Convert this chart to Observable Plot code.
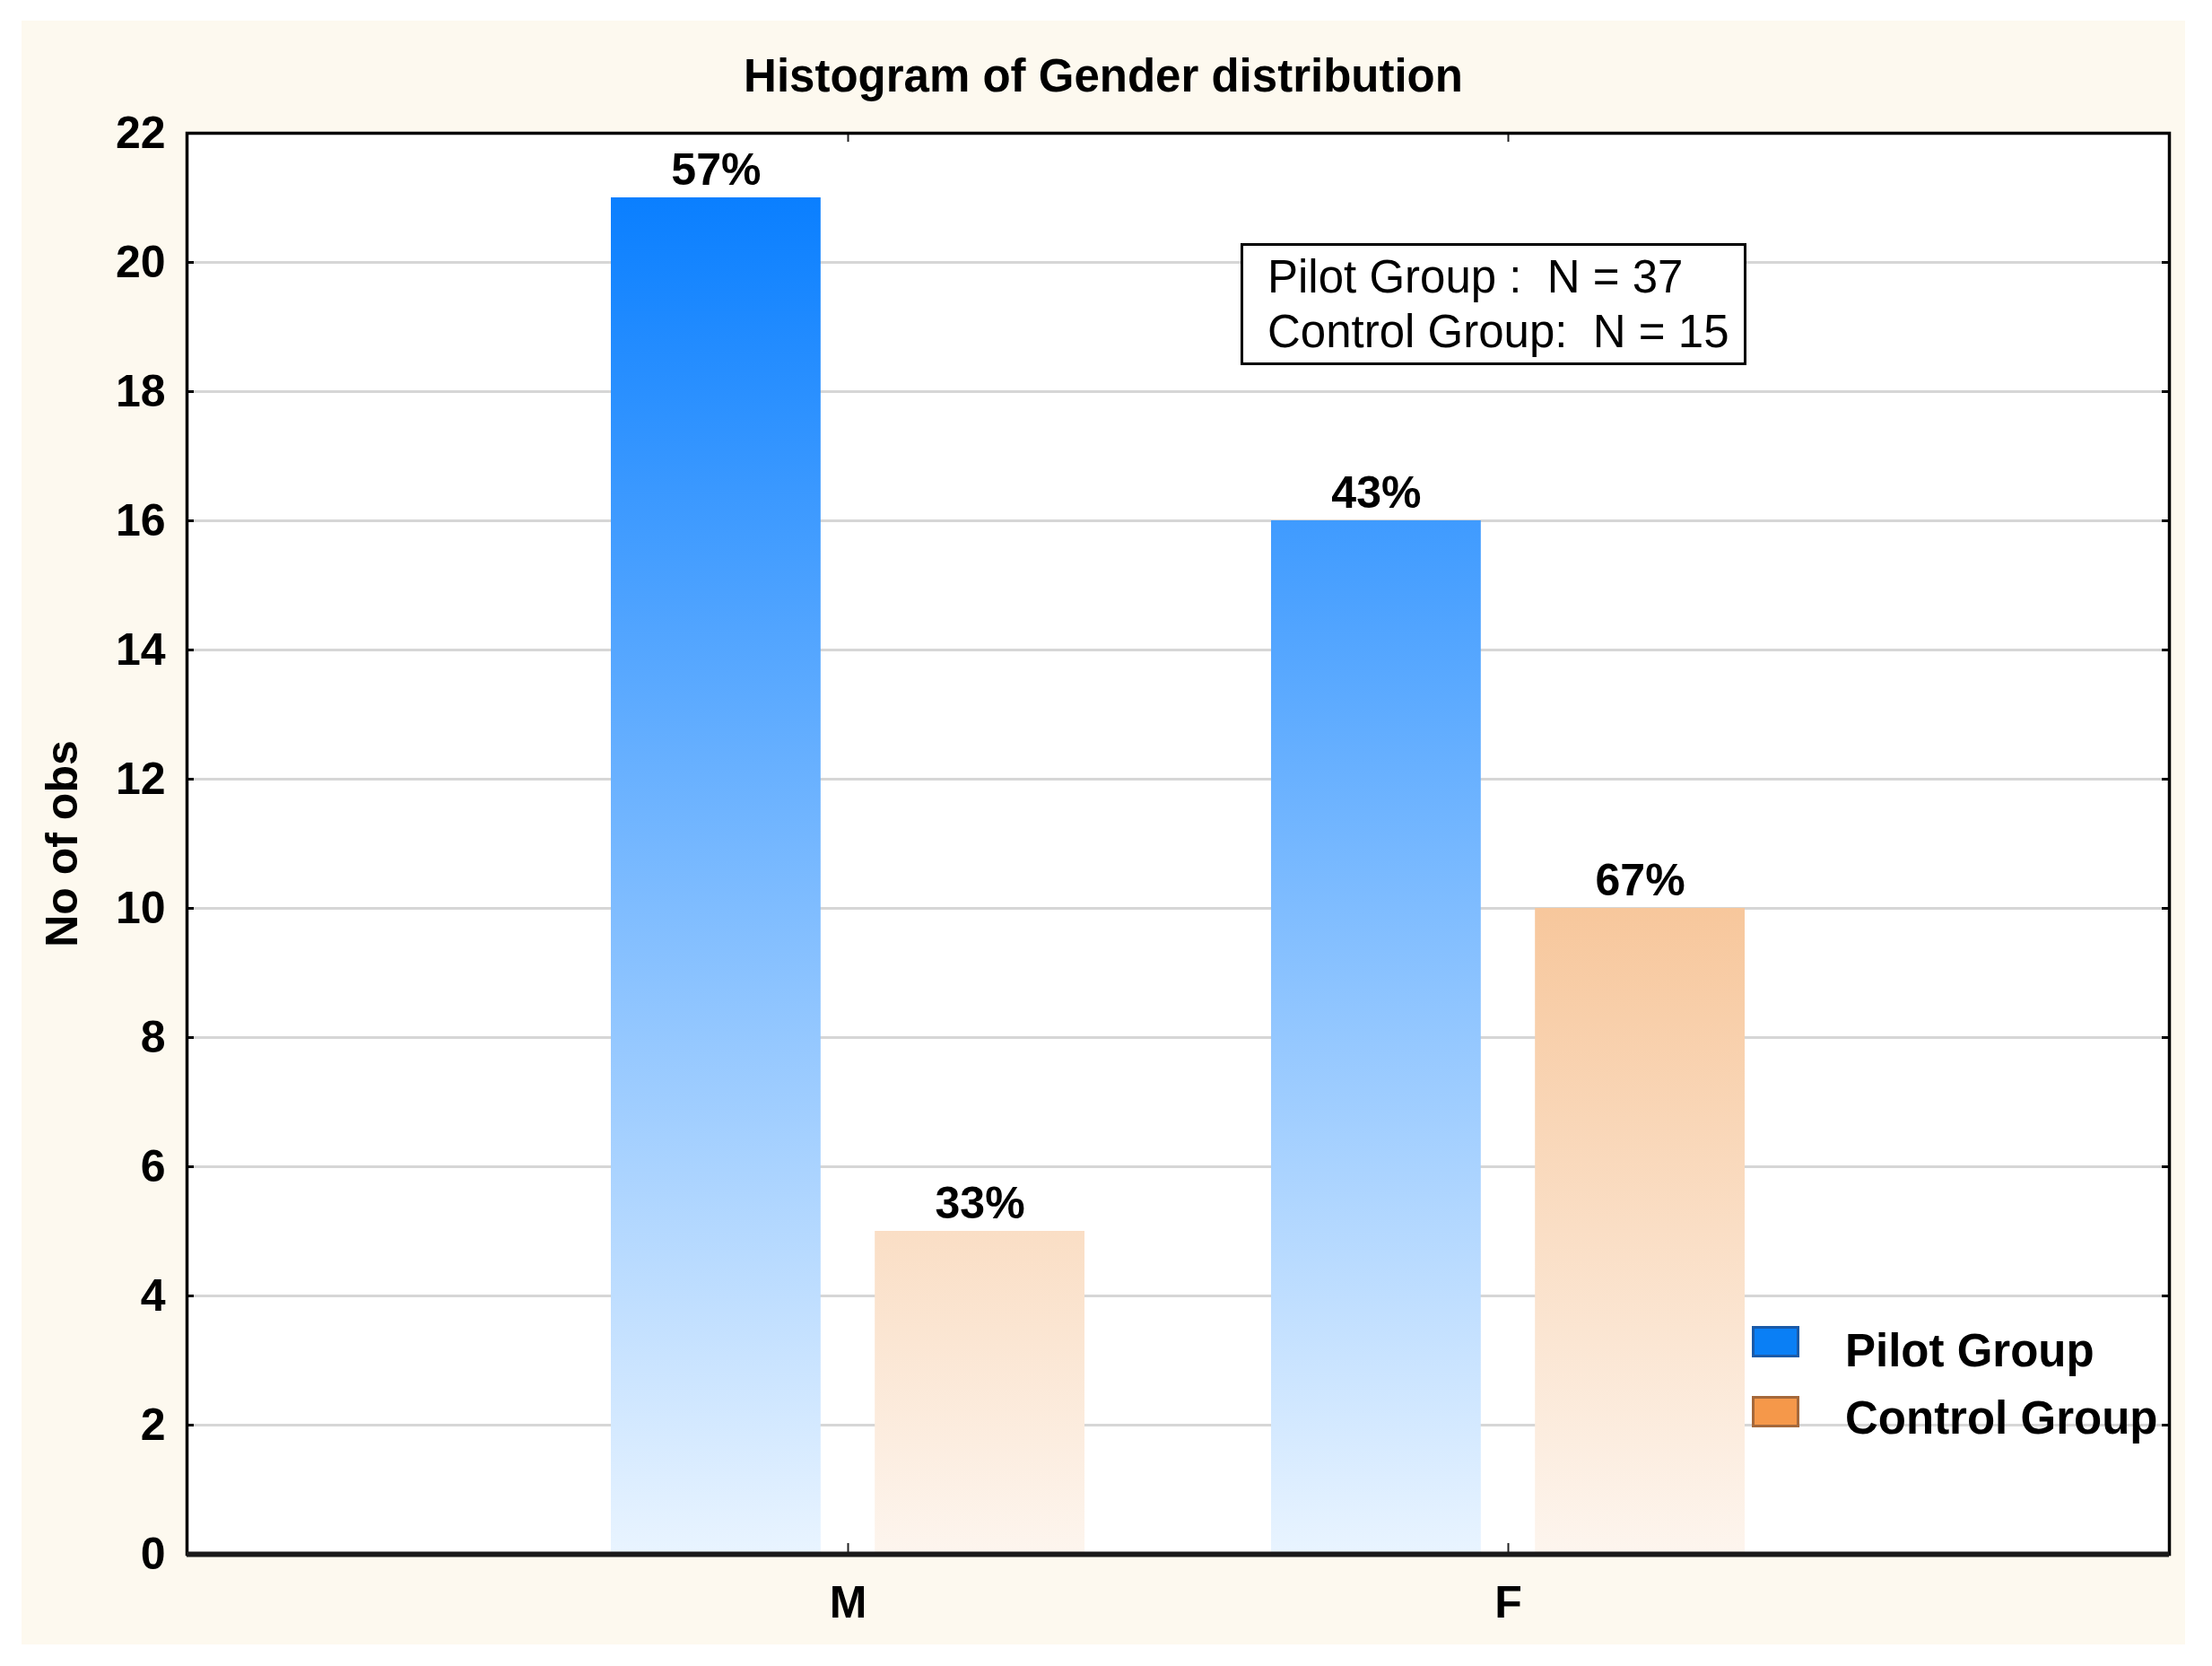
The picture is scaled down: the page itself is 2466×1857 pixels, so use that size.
<!DOCTYPE html>
<html>
<head>
<meta charset="utf-8">
<script src="https://cdn.jsdelivr.net/npm/d3@7"></script>
<script src="https://cdn.jsdelivr.net/npm/@observablehq/plot@0.6"></script>
<style>
  html, body { margin: 0; padding: 0; background: #ffffff; }
  #wrap { position: relative; width: 2466px; height: 1857px; overflow: hidden; font-family: "Liberation Sans", Arial, sans-serif; color: #000; }
  #bg { position: absolute; left: 24px; top: 23px; width: 2412px; height: 1810px; background: #fdf9ef; }
  #title { position: absolute; left: 24px; width: 2412px; top: 59px; text-align: center; font-weight: bold; font-size: 51px; line-height: 51px; }
  #chart { position: absolute; left: 0; top: 0; }
  #note { position: absolute; left: 1383px; top: 271px; width: 564px; height: 136px; box-sizing: border-box; border: 3px solid #000; background: #fff; }
  #note div { position: absolute; left: 27px; top: 4px; font-size: 51px; line-height: 61px; white-space: pre; }
  .sw { position: absolute; left: 1953px; width: 53px; height: 35px; box-sizing: border-box; border: 3px solid; }
  .lg { position: absolute; left: 2057px; font-weight: bold; font-size: 51px; line-height: 51px; white-space: pre; }
</style>
</head>
<body>
<div id="wrap">
  <div id="bg"></div>
  <div id="title"></div>
  <div id="chart"></div>
  <div id="note"><div id="noteText"></div></div>
  <div id="legend"></div>
</div>
<script>
// ---- data ----
const genders = ["M", "F"];
const groups = ["Pilot Group", "Control Group"];
const pilotCounts = [21, 16];
const controlCounts = [5, 10];
const pilotLabels = ["57%", "43%"];
const controlLabels = ["33%", "67%"];
const sampleSizes = [37, 15];
const yTicks = [0, 2, 4, 6, 8, 10, 12, 14, 16, 18, 20, 22];
const titleText = "Histogram of Gender distribution";
const yLabel = "No of obs";

const pilot = genders.map((g, i) => ({gender: g, group: groups[0], count: pilotCounts[i], label: pilotLabels[i]}));
const control = genders.map((g, i) => ({gender: g, group: groups[1], count: controlCounts[i], label: controlLabels[i]}));

// ---- layout ----
const W = 2466, H = 1857;
const mL = 208, mR = 48, mT = 148, mB = 125;
const innerW = W - mL - mR, innerH = H - mT - mB;
const pIn = 0.283, pOut = 0.6415;
const step = innerW / (genders.length - pIn + 2 * pOut);
const bandW = step * (1 - pIn);
const barW = 234;
const inset = bandW - barW;
const offset = bandW / 2 - barW / 2;

const chart = Plot.plot({
  width: W, height: H,
  marginLeft: mL, marginRight: mR, marginTop: mT, marginBottom: mB,
  style: {background: "transparent", fontFamily: "Liberation Sans, Arial, sans-serif", fontSize: "50px", fontWeight: "bold", color: "#000", overflow: "visible"},
  x: {type: "band", domain: genders, paddingInner: pIn, paddingOuter: pOut},
  y: {domain: [0, 22]},
  marks: [
    Plot.frame({fill: "#ffffff", stroke: null}),
    Plot.gridY(yTicks, {stroke: "#d6d6d6", strokeOpacity: 1, strokeWidth: 3}),
    Plot.barY(pilot, {x: "gender", y: "count", fill: "url(#pilotGrad)", insetRight: inset}),
    Plot.barY(control, {x: "gender", y: "count", fill: "url(#controlGrad)", insetLeft: inset}),
    Plot.tickY(yTicks, {y: d => d, stroke: "#000", strokeWidth: 3, insetRight: innerW - 8}),
    Plot.tickY(yTicks, {y: d => d, stroke: "#000", strokeWidth: 3, insetLeft: innerW - 8}),
    Plot.tickX(genders, {x: d => d, stroke: "#222", strokeWidth: 2, insetBottom: innerH - 10}),
    Plot.tickX(genders, {x: d => d, stroke: "#222", strokeWidth: 2, insetTop: innerH - 12}),
    Plot.frame({stroke: "#000", strokeWidth: 3.5}),
    Plot.ruleY([0], {stroke: "#1a1a1a", strokeWidth: 6}),
    Plot.text(pilot, {x: "gender", y: "count", text: "label", dx: -offset, dy: -15, lineAnchor: "bottom", fill: "#000"}),
    Plot.text(control, {x: "gender", y: "count", text: "label", dx: offset, dy: -15, lineAnchor: "bottom", fill: "#000"}),
    Plot.axisY({ticks: yTicks, tickSize: 0, tickPadding: 24, label: yLabel, labelAnchor: "center", labelOffset: 158, labelArrow: "none"}),
    Plot.axisX({tickSize: 0, tickPadding: 35, label: null})
  ]
});

// gradients in user space, from the y scale
const ys = chart.scale("y");
const ns = "http://www.w3.org/2000/svg";
const defs = document.createElementNS(ns, "defs");
function grad(id, top, c0, c1) {
  const g = document.createElementNS(ns, "linearGradient");
  g.setAttribute("id", id);
  g.setAttribute("gradientUnits", "userSpaceOnUse");
  g.setAttribute("x1", 0); g.setAttribute("x2", 0);
  g.setAttribute("y1", ys.apply(0)); g.setAttribute("y2", ys.apply(top));
  [[0, c0], [1, c1]].forEach(([o, c]) => {
    const s = document.createElementNS(ns, "stop");
    s.setAttribute("offset", o); s.setAttribute("stop-color", c);
    g.appendChild(s);
  });
  defs.appendChild(g);
}
grad("pilotGrad", d3.max(pilotCounts), "#e9f4ff", "#0a7fff");
grad("controlGrad", d3.max(controlCounts), "#fdf5ee", "#f7c79c");
chart.insertBefore(defs, chart.firstChild);
document.getElementById("chart").appendChild(chart);

document.getElementById("title").textContent = titleText;
document.getElementById("noteText").textContent =
  `Pilot Group :  N = ${sampleSizes[0]}\nControl Group:  N = ${sampleSizes[1]}`;

// legend
const legend = document.getElementById("legend");
const swatchStyles = [
  {fill: "#0a7ff5", border: "#1a5aa8", top: 1478, textTop: 1480},
  {fill: "#f5984a", border: "#a5683a", top: 1556, textTop: 1555}
];
groups.forEach((g, i) => {
  const s = document.createElement("div");
  s.className = "sw";
  s.style.top = swatchStyles[i].top + "px";
  s.style.background = swatchStyles[i].fill;
  s.style.borderColor = swatchStyles[i].border;
  legend.appendChild(s);
  const t = document.createElement("div");
  t.className = "lg";
  t.style.top = swatchStyles[i].textTop + "px";
  t.textContent = g;
  legend.appendChild(t);
});
</script>
</body>
</html>
